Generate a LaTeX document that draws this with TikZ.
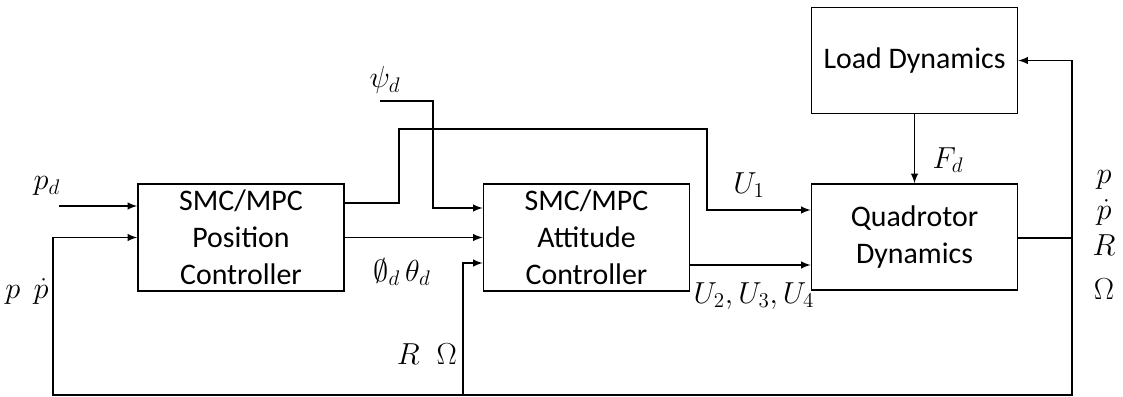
\documentclass[tikz,border=0pt]{standalone}
\usepackage{fontspec}
\setmainfont{Carlito}
\usepackage{amssymb}
\begin{document}
\begin{tikzpicture}[x=0.02cm, y=-0.02cm, line width=0.9pt, >=latex,
    blockbox/.style={draw, minimum width=4.12cm, minimum height=2.12cm, align=center,
      font=\fontsize{17}{21}\selectfont},
    sig/.style={inner sep=0pt, font=\fontsize{17.28}{20}\selectfont}]
  \useasboundingbox (0,0) rectangle (1123,396);
  % blocks
  \node[blockbox] (pos) at (241,237.5) {SMC/MPC\\Position\\Controller};
  \node[blockbox] (att) at (586.5,237.5) {SMC/MPC\\Attitude\\Controller};
  \node[blockbox] (quad) at (914.5,237) {Quadrotor\\Dynamics};
  \node[blockbox] (load) at (914.5,60.5) {Load Dynamics};
  % bend points
  \coordinate (pdin) at (59,206);
  \coordinate (psin) at (380,101);
  \coordinate (psbend) at (433,208);
  \coordinate (uone) at (399,203);
  \coordinate (uonetop) at (707,129);
  \coordinate (uoneend) at (707,210);
  \coordinate (ulow) at (690,265);
  \coordinate (outp) at (1072,238);
  \coordinate (fbl) at (53,395);
  \coordinate (fbmid) at (463,395);
  \coordinate (rw) at (463,263);
  % references
  \draw[->] (pdin) -- (pos.west |- pdin);
  \draw[->] (psin) -| (psbend) -- (att.west |- psbend);
  % position controller outputs
  \draw[->] (pos.east |- uone) -- (uone) |- (uonetop) |- (quad.west |- uoneend);
  \draw[->] (pos.east) -- (att.west);
  % attitude controller output
  \draw[->] (ulow) -- (quad.west |- ulow);
  % load coupling
  \draw[->] (load) -- (quad);
  % feedback
  \draw (quad.east |- outp) -- (outp);
  \draw[->] (outp) |- (load.east);
  \draw[->] (outp) |- (fbl) |- (pos.west);
  \draw[->] (fbmid) |- (att.west |- rw);
  % signal labels
  \node[sig] (lpd) at (47,186) {$p_d$};
  \node[sig] (lpp) at (27,291) {$p\;\,\dot{p}$};
  \node[sig] (lpsi) at (385,80) {$\psi_d$};
  \node[sig] (lphi) at (402,272) {$\emptyset_d\,\theta_d$};
  \node[sig] (lrom) at (427,354) {$R\;\;\Omega$};
  \node[sig] (lu1) at (749,185) {$U_1$};
  \node[sig] (lu234) at (754,296) {$U_2,U_3,U_4$};
  \node[sig] (lfd) at (948,160) {$F_d$};
  \node[sig] (lp) at (1104,180) {$p$};
  \node[sig] (ldp) at (1104,212) {$\dot{p}$};
  \node[sig] (lr) at (1104,245) {$R$};
  \node[sig] (lom) at (1104,289) {$\Omega$};
\end{tikzpicture}
\end{document}
